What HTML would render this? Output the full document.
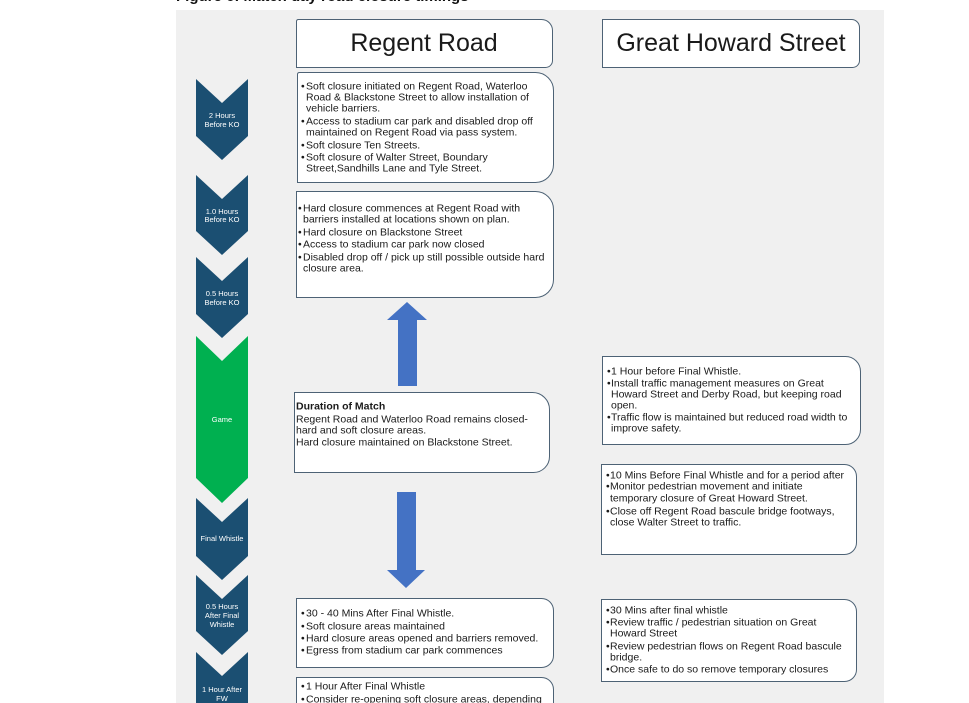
<!DOCTYPE html>
<html><head><meta charset="utf-8"><style>
html,body{margin:0;padding:0;background:#fff;width:969px;height:703px;overflow:hidden;}
svg{display:block;font-family:"Liberation Sans",Arial,sans-serif;}
.t{font-size:10.5px;fill:#1a1a1a;}
.c{font-size:7.5px;fill:#fff;text-anchor:middle;}
.h{font-size:25px;fill:#1a1a1a;text-anchor:middle;}
.b{fill:#fff;stroke:#4d6275;stroke-width:1;}
</style></head><body>
<svg width="969" height="703" viewBox="0 0 969 703" xmlns="http://www.w3.org/2000/svg">
<text x="176" y="1" style="font-size:15px;font-weight:bold;fill:#111">Figure 6: Match day road closure timings</text>
<rect x="176" y="10" width="708" height="693" fill="#f0f0f0"/>

<!-- chevrons -->
<g fill="#1b4f72">
<path d="M196,79 L222,103 L248,79 L248,136 L222,160 L196,136 Z"/>
<path d="M196,175 L222,199 L248,175 L248,231 L222,255 L196,231 Z"/>
<path d="M196,257 L222,281 L248,257 L248,314 L222,338 L196,314 Z"/>
<path d="M196,498 L222,522 L248,498 L248,556 L222,580 L196,556 Z"/>
<path d="M196,575 L222,599 L248,575 L248,631 L222,655 L196,631 Z"/>
<path d="M196,652 L222,676 L248,652 L248,708 L222,732 L196,708 Z"/>
</g>
<path fill="#00b050" d="M196,336 L222,361 L248,336 L248,478 L222,503 L196,478 Z"/>
<text class="c" x="222" y="118">2 Hours</text>
<text class="c" x="222" y="127">Before KO</text>
<text class="c" x="222" y="214">1.0 Hours</text>
<text class="c" x="222" y="222">Before KO</text>
<text class="c" x="222" y="296">0.5 Hours</text>
<text class="c" x="222" y="305">Before KO</text>
<text class="c" x="222" y="422">Game</text>
<text class="c" x="222" y="541">Final Whistle</text>
<text class="c" x="222" y="609">0.5 Hours</text>
<text class="c" x="222" y="618">After Final</text>
<text class="c" x="222" y="627">Whistle</text>
<text class="c" x="222" y="692">1 Hour After</text>
<text class="c" x="222" y="701">FW</text>

<!-- headers -->
<path class="b" d="M296.5,21.5 Q296.5,19.5 298.5,19.5 H541.5 A11,11 0 0 1 552.5,30.5 V60.5 A7,7 0 0 1 545.5,67.5 H296.5 Z"/>
<text class="h" x="424" y="51">Regent Road</text>
<path class="b" d="M602.5,19.5 H851.5 A8,8 0 0 1 859.5,27.5 V60.5 A7,7 0 0 1 852.5,67.5 H602.5 Z"/>
<text class="h" x="731" y="51">Great Howard Street</text>

<!-- Box A -->
<path class="b" d="M297.5,74.5 Q297.5,72.5 299.5,72.5 H535.5 A18,18 0 0 1 553.5,90.5 V164.5 A18,18 0 0 1 535.5,182.5 H297.5 Z"/>
<g class="t">
<text x="301" y="89.5">•</text><text x="306" y="89.5">Soft closure initiated on Regent Road, Waterloo</text>
<text x="306" y="100.5">Road &amp; Blackstone Street to allow installation of</text>
<text x="306" y="111.5">vehicle barriers.</text>
<text x="301" y="124.5">•</text><text x="306" y="124.5">Access to stadium car park and disabled drop off</text>
<text x="306" y="135.5">maintained on Regent Road via pass system.</text>
<text x="301" y="148.5">•</text><text x="306" y="148.5">Soft closure Ten Streets.</text>
<text x="301" y="160.5">•</text><text x="306" y="160.5">Soft closure of Walter Street, Boundary</text>
<text x="306" y="171.5">Street,Sandhills Lane and Tyle Street.</text>
</g>

<!-- Box B -->
<path class="b" d="M296.5,191.5 H535.5 A18,18 0 0 1 553.5,209.5 V279.5 A18,18 0 0 1 535.5,297.5 H296.5 Z"/>
<g class="t">
<text x="298" y="211.5">•</text><text x="303" y="211.5">Hard closure commences at Regent Road with</text>
<text x="303" y="222.5">barriers installed at locations shown on plan.</text>
<text x="298" y="235.5">•</text><text x="303" y="235.5">Hard closure on Blackstone Street</text>
<text x="298" y="247.5">•</text><text x="303" y="247.5">Access to stadium car park now closed</text>
<text x="298" y="260.5">•</text><text x="303" y="260.5">Disabled drop off / pick up still possible outside hard</text>
<text x="303" y="271.5">closure area.</text>
</g>

<!-- up arrow -->
<path fill="#4472c4" d="M407,302 L427,320 L417,320 L417,386 L398,386 L398,320 L387,320 Z"/>

<!-- Duration box -->
<path class="b" d="M294.5,392.5 H532.5 A17,17 0 0 1 549.5,409.5 V456.5 A16,16 0 0 1 533.5,472.5 H294.5 Z"/>
<g class="t">
<text x="296" y="409.5" style="font-weight:bold">Duration of Match</text>
<text x="296" y="422.5">Regent Road and Waterloo Road remains closed-</text>
<text x="296" y="433.5">hard and soft closure areas.</text>
<text x="296" y="445.5">Hard closure maintained on Blackstone Street.</text>
</g>

<!-- down arrow -->
<path fill="#4472c4" d="M397,492 L416,492 L416,570 L425,570 L406,588 L387,570 L397,570 Z"/>

<!-- Box C -->
<path class="b" d="M296.5,598.5 H541.5 A12,12 0 0 1 553.5,610.5 V655.5 A12,12 0 0 1 541.5,667.5 H296.5 Z"/>
<g class="t">
<text x="301" y="616.5">•</text><text x="306" y="616.5">30 - 40 Mins After Final Whistle.</text>
<text x="301" y="629.5">•</text><text x="306" y="629.5">Soft closure areas maintained</text>
<text x="301" y="641.5">•</text><text x="306" y="641.5">Hard closure areas opened and barriers removed.</text>
<text x="301" y="653.5">•</text><text x="306" y="653.5">Egress from stadium car park commences</text>
</g>

<!-- Box D -->
<path class="b" d="M296.5,677.5 H541.5 A12,12 0 0 1 553.5,689.5 V710 H296.5 Z"/>
<g class="t">
<text x="301" y="689.5">•</text><text x="306" y="689.5">1 Hour After Final Whistle</text>
<text x="301" y="702.5">•</text><text x="306" y="702.5">Consider re-opening soft closure areas, depending</text>
</g>

<!-- Box E -->
<path class="b" d="M602.5,356.5 H845.5 A15,15 0 0 1 860.5,371.5 V429.5 A15,15 0 0 1 845.5,444.5 H602.5 Z"/>
<g class="t">
<text x="607" y="374.5">•</text><text x="611" y="374.5">1 Hour before Final Whistle.</text>
<text x="607" y="386.5">•</text><text x="611" y="386.5">Install traffic management measures on Great</text>
<text x="611" y="397.5">Howard Street and Derby Road, but keeping road</text>
<text x="611" y="408.5">open.</text>
<text x="607" y="420.5">•</text><text x="611" y="420.5">Traffic flow is maintained but reduced road width to</text>
<text x="611" y="431.5">improve safety.</text>
</g>

<!-- Box F -->
<path class="b" d="M601.5,464.5 H844.5 A12,12 0 0 1 856.5,476.5 V542.5 A12,12 0 0 1 844.5,554.5 H601.5 Z"/>
<g class="t">
<text x="606" y="478.5">•</text><text x="610" y="478.5">10 Mins Before Final Whistle and for a period after</text>
<text x="606" y="489.5">•</text><text x="610" y="489.5">Monitor pedestrian movement and initiate</text>
<text x="610" y="501.5">temporary closure of Great Howard Street.</text>
<text x="606" y="514.5">•</text><text x="610" y="514.5">Close off Regent Road bascule bridge footways,</text>
<text x="610" y="525.5">close Walter Street to traffic.</text>
</g>

<!-- Box G -->
<path class="b" d="M601.5,599.5 H844.5 A12,12 0 0 1 856.5,611.5 V669.5 A12,12 0 0 1 844.5,681.5 H601.5 Z"/>
<g class="t">
<text x="606" y="613.5">•</text><text x="610" y="613.5">30 Mins after final whistle</text>
<text x="606" y="625.5">•</text><text x="610" y="625.5">Review traffic / pedestrian situation on Great</text>
<text x="610" y="636.5">Howard Street</text>
<text x="606" y="649.5">•</text><text x="610" y="649.5">Review pedestrian flows on Regent Road bascule</text>
<text x="610" y="660.5">bridge.</text>
<text x="606" y="672.5">•</text><text x="610" y="672.5">Once safe to do so remove temporary closures</text>
</g>
</svg>
</body></html>
